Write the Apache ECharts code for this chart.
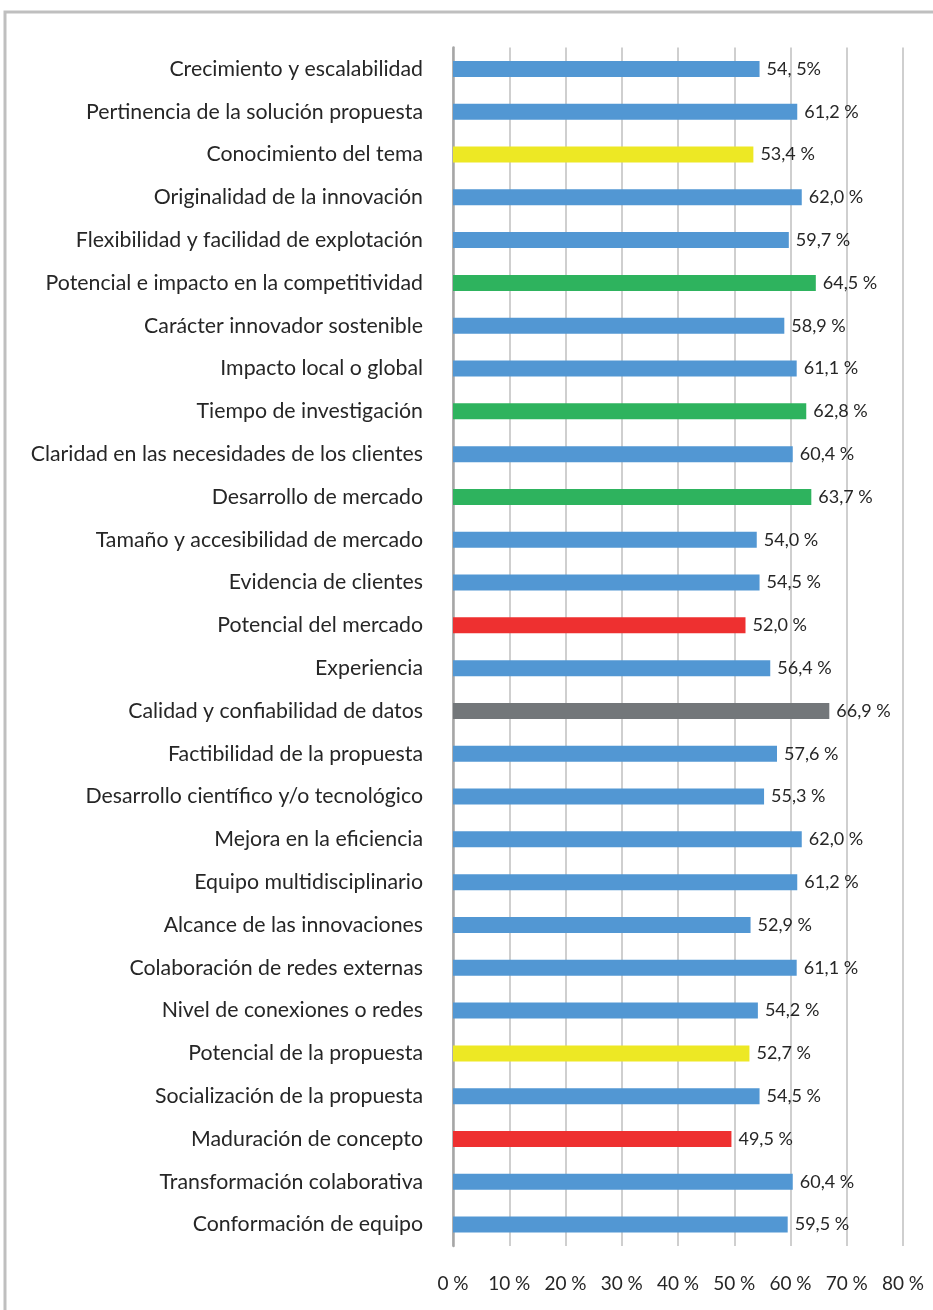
<!DOCTYPE html>
<html>
<head>
<meta charset="utf-8">
<style>
html,body{margin:0;padding:0;background:#fff;}
#chart{width:933px;height:1310px;}
</style>
<script src="https://cdn.jsdelivr.net/npm/echarts@6/dist/echarts.min.js"></script>
</head>
<body>
<div id="chart"></div>
<script>
const categories = [
  "Crecimiento y escalabilidad",
  "Pertinencia de la solución propuesta",
  "Conocimiento del tema",
  "Originalidad de la innovación",
  "Flexibilidad y facilidad de explotación",
  "Potencial e impacto en la competitividad",
  "Carácter innovador sostenible",
  "Impacto local o global",
  "Tiempo de investigación",
  "Claridad en las necesidades de los clientes",
  "Desarrollo de mercado",
  "Tamaño y accesibilidad de mercado",
  "Evidencia de clientes",
  "Potencial del mercado",
  "Experiencia",
  "Calidad y confiabilidad de datos",
  "Factibilidad de la propuesta",
  "Desarrollo científico y/o tecnológico",
  "Mejora en la eficiencia",
  "Equipo multidisciplinario",
  "Alcance de las innovaciones",
  "Colaboración de redes externas",
  "Nivel de conexiones o redes",
  "Potencial de la propuesta",
  "Socialización de la propuesta",
  "Maduración de concepto",
  "Transformación colaborativa",
  "Conformación de equipo"
];
const values = [54.5, 61.2, 53.4, 62.0, 59.7, 64.5, 58.9, 61.1, 62.8, 60.4, 63.7, 54.0, 54.5, 52.0, 56.4, 66.9, 57.6, 55.3, 62.0, 61.2, 52.9, 61.1, 54.2, 52.7, 54.5, 49.5, 60.4, 59.5];
const valueLabels = ["54, 5%", "61,2 %", "53,4 %", "62,0 %", "59,7 %", "64,5 %", "58,9 %", "61,1 %", "62,8 %", "60,4 %", "63,7 %", "54,0 %", "54,5 %", "52,0 %", "56,4 %", "66,9 %", "57,6 %", "55,3 %", "62,0 %", "61,2 %", "52,9 %", "61,1 %", "54,2 %", "52,7 %", "54,5 %", "49,5 %", "60,4 %", "59,5 %"];
const colorGroups = ["blue","blue","yellow","blue","blue","green","blue","blue","green","blue","green","blue","blue","red","blue","gray","blue","blue","blue","blue","blue","blue","blue","yellow","blue","red","blue","blue"];
const tickLabels = ["0 %","10 %","20 %","30 %","40 %","50 %","60 %","70 %","80 %"];

const palette = {blue:"#5297D3", yellow:"#EDE824", green:"#2EB35E", red:"#EE3030", gray:"#73777A"};
const FONT = "Lato";

const chart = echarts.init(document.getElementById('chart'), null, {renderer:'canvas'});
chart.setOption({
  backgroundColor: '#fff',
  animation: false,
  graphic: [{
    type: 'rect', silent: true, z: -10,
    shape: {x: 5, y: 12, width: 1100, height: 1500},
    style: {fill: 'none', stroke: '#BFBFBF', lineWidth: 3}
  }],
  grid: {left: 453, right: 30, top: 47.5, bottom: 64, containLabel: false},
  xAxis: {
    type: 'value', min: 0, max: 80, interval: 10,
    axisLine: {show: false}, axisTick: {show: false},
    splitLine: {show: true, lineStyle: {color: '#BFBFBF', width: 1.5}},
    axisLabel: {
      margin: 28, fontSize: 19, fontFamily: FONT, color: '#262626',
      formatter: function (v) { return tickLabels[Math.round(v / 10)]; }
    }
  },
  yAxis: {
    type: 'category', inverse: true, data: categories,
    axisLine: {show: true, lineStyle: {color: '#A6A6A6', width: 2.5}},
    axisTick: {show: false},
    axisLabel: {margin: 30, fontSize: 21.3, fontFamily: FONT, color: '#262626'}
  },
  series: [{
    type: 'bar',
    barWidth: 16,
    data: values.map((v, i) => ({value: v, itemStyle: {color: palette[colorGroups[i]]}})),
    label: {
      show: true, position: 'right', distance: 7,
      fontSize: 18, fontFamily: FONT, color: '#262626',
      formatter: p => valueLabels[p.dataIndex]
    }
  }]
});
</script>
</body>
</html>
